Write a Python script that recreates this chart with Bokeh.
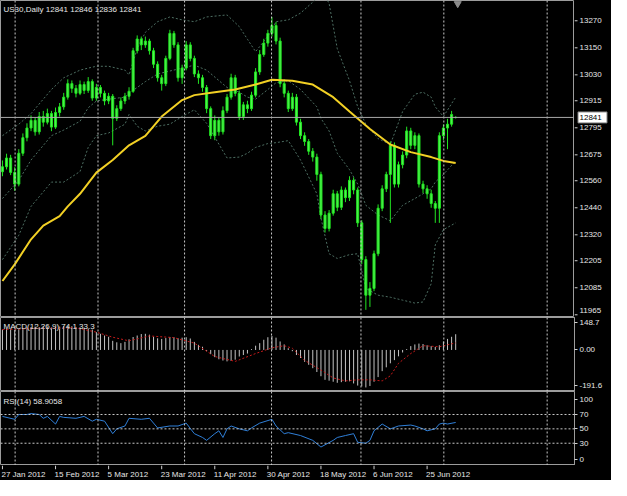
from bokeh.plotting import figure
from bokeh.layouts import column, row
from bokeh.models import Range1d, FixedTicker, Span, Label
from bokeh.embed import file_html
from bokeh.resources import INLINE
from bokeh.core.properties import value

# ---------------- data ----------------
symbol = "US30,Daily"
opens = [12600, 12622, 12661, 12597, 12545, 12682, 12751, 12794, 12828, 12777,
         12845, 12820, 12858, 12798, 12863, 12888, 12931, 12991, 12970, 12948,
         12987, 12961, 13000, 12927, 12974, 12948, 12914, 12935, 12837, 12880,
         12914, 12935, 12957, 13137, 13189, 13163, 13180, 13137, 13077, 13017,
         12991, 13103, 13214, 13163, 13017, 13060, 13163, 13103, 13034, 13017,
         12974, 12880, 12760, 12828, 12777, 12871, 12931, 13017, 12948, 12845,
         12897, 12880, 12940, 13043, 13120, 13171, 13214, 13249, 13180, 12991,
         12948, 12880, 12931, 12820, 12760, 12734, 12691, 12665, 12588, 12408,
         12348, 12416, 12502, 12442, 12519, 12485, 12562, 12519, 12373, 12210,
         12052, 12082, 12236, 12438, 12524, 12588, 12717, 12545, 12631, 12674,
         12781, 12717, 12760, 12545, 12524, 12502, 12459, 12438, 12760, 12794,
         12811, 12841]
highs = [12650, 12680, 12675, 12620, 12700, 12770, 12815, 12850, 12840, 12865,
         12870, 12880, 12870, 12885, 12905, 12950, 13010, 13005, 12985, 13005,
         13000, 13020, 13010, 12990, 12985, 12960, 12950, 12945, 12895, 12930,
         12950, 12975, 13150, 13205, 13200, 13200, 13190, 13150, 13090, 13030,
         13115, 13230, 13225, 13175, 13075, 13180, 13175, 13115, 13050, 13030,
         12985, 12890, 12850, 12840, 12890, 12945, 13035, 13030, 12960, 12910,
         12915, 12955, 13060, 13140, 13190, 13230, 13287, 13265, 13195, 13010,
         12960, 12950, 12945, 12835, 12775, 12745, 12705, 12680, 12600, 12425,
         12430, 12520, 12515, 12535, 12530, 12580, 12575, 12530, 12385, 12225,
         12110, 12250, 12455, 12540, 12600, 12735, 12730, 12645, 12690, 12800,
         12795, 12775, 12770, 12560, 12540, 12520, 12470, 12775, 12810, 12835,
         12870, 12846]
lows = [12580, 12610, 12585, 12515, 12535, 12670, 12735, 12780, 12760, 12765,
        12800, 12810, 12780, 12790, 12845, 12875, 12920, 12950, 12930, 12940,
        12945, 12950, 12915, 12915, 12930, 12895, 12900, 12717, 12825, 12870,
        12900, 12920, 12950, 13125, 13140, 13150, 13120, 13060, 13000, 12960,
        12980, 13095, 13150, 13000, 12990, 13050, 13090, 13020, 12990, 12955,
        12860, 12745, 12740, 12760, 12765, 12860, 12920, 12935, 12830, 12830,
        12860, 12870, 12930, 13030, 13110, 13155, 13200, 13165, 12975, 12930,
        12865, 12870, 12805, 12745, 12715, 12675, 12645, 12560, 12390, 12330,
        12335, 12405, 12425, 12430, 12465, 12470, 12500, 12355, 12190, 11987,
        12000, 12070, 12225, 12425, 12510, 12373, 12530, 12530, 12615, 12660,
        12700, 12700, 12530, 12505, 12480, 12440, 12373, 12373, 12740, 12700,
        12800, 12836]
closes = [12622, 12661, 12597, 12545, 12682, 12751, 12794, 12828, 12777, 12845,
          12820, 12858, 12798, 12863, 12888, 12931, 12991, 12970, 12948, 12987,
          12961, 13000, 12927, 12974, 12948, 12914, 12935, 12837, 12880, 12914,
          12935, 12957, 13137, 13189, 13163, 13180, 13137, 13077, 13017, 12991,
          13103, 13214, 13163, 13017, 13060, 13163, 13103, 13034, 13017, 12974,
          12880, 12760, 12828, 12777, 12871, 12931, 13017, 12948, 12845, 12897,
          12880, 12940, 13043, 13120, 13171, 13214, 13249, 13180, 12991, 12948,
          12880, 12931, 12820, 12760, 12734, 12691, 12665, 12588, 12408, 12348,
          12416, 12502, 12442, 12519, 12485, 12562, 12519, 12373, 12210, 12052,
          12082, 12236, 12438, 12524, 12588, 12717, 12545, 12631, 12674, 12781,
          12717, 12760, 12545, 12524, 12502, 12459, 12438, 12760, 12794, 12811,
          12854, 12841]

ma_idx = [0, 3, 7, 10, 14, 16, 19, 23, 27, 31, 35, 39, 44, 47, 52, 57, 62, 66,
          71, 76, 81, 85, 90, 95, 100, 105, 108, 111]
ma_val = [12115, 12189, 12300, 12361, 12403, 12446, 12502, 12596, 12652, 12717,
          12759, 12845, 12918, 12940, 12953, 12965, 12987, 13008, 13004, 12987,
          12931, 12867, 12790, 12721, 12687, 12665, 12648, 12639]

bb_idx = [0, 4, 7, 12, 15, 19, 21, 23, 26, 30, 31, 33, 35, 38, 41, 44, 47, 50,
          55, 58, 60, 62, 65, 67, 70, 73, 77, 78, 80, 82, 85, 87, 89, 92, 95,
          98, 101, 103, 105, 106, 108, 111]
bb_upper = [12760, 12811, 12858, 12965, 13017, 13051, 13060, 13068, 13068, 13051,
            13030, 13146, 13219, 13266, 13287, 13274, 13266, 13287, 13296, 13244,
            13188, 13133, 13201, 13266, 13274, 13304, 13369, 13412, 13347, 13146,
            13004, 12888, 12811, 12747, 12721, 12867, 12944, 12953, 12931, 12888,
            12845, 12931]
bb_mid = [12481, 12562, 12652, 12760, 12785, 12824, 12884, 12914, 12922, 12931,
          12948, 12974, 13000, 13034, 13047, 13060, 13073, 13051, 12974, 12953,
          12931, 12922, 12965, 12995, 13004, 12965, 12888, 12837, 12781, 12682,
          12609, 12545, 12451, 12408, 12382, 12451, 12481, 12502, 12524, 12554,
          12588, 12648]
bb_lower = [12210, 12318, 12446, 12554, 12554, 12601, 12708, 12760, 12772, 12811,
            12854, 12802, 12781, 12802, 12811, 12845, 12875, 12815, 12661, 12665,
            12682, 12708, 12725, 12729, 12738, 12652, 12502, 12395, 12236, 12215,
            12232, 12236, 12082, 12052, 12043, 12030, 12017, 12022, 12103, 12275,
            12343, 12373]

macd_hist = [96, 100, 98, 94, 98, 102, 106, 108, 110, 108, 112, 110, 106, 108,
             110, 112, 114, 112, 108, 106, 104, 100, 96,
             84, 76, 68, 62, 43, 36, 32, 38, 50, 61, 68, 75, 76, 72,
             62, 55, 52, 56, 61, 60, 55, 58, 60, 54, 38, 24, 15,
             -6, -20, -34, -44, -50, -54, -52, -46, -31, -24, -17, 4, 20, 32,
             48, 60, 66, 58, 40, 26, 8, -6, -24, -38, -56, -70, -86,
             -104, -124, -141, -145, -150, -155, -152, -150, -148, -158, -168,
             -172, -177, -170, -150, -128, -100, -82, -63, -48, -30, -12, 4,
             18, 26, 30, 28, 22, 18, 14, 22, 40, 52, 62, 74.1]
sig_idx = [0, 10, 18, 23, 27, 31, 36, 42, 47, 52, 57, 62, 66, 69, 71, 74, 78,
           81, 84, 87, 90, 93, 95, 97, 100, 103, 107, 111]
sig_val = [96, 102, 104, 84, 60, 43, 66, 58, 32, -31, -54, -17, 10, 20, 8, -49,
           -95, -132, -146, -141, -141, -146, -122, -63, -17, 20, 15, 33.3]

rsi_idx = [0, 3, 4, 6, 7, 9, 10, 11, 13, 14, 15, 18, 20, 22, 23, 25, 27, 28, 30,
           31, 34, 36, 38, 41, 43, 45, 47, 49, 50, 52, 53, 54, 55, 56, 58, 60,
           61, 63, 66, 67, 69, 70, 73, 76, 78, 81, 82, 84, 86, 87, 89, 90, 91,
           93, 95, 97, 100, 101, 103, 104, 106, 107, 108, 109, 111]
rsi_val = [67.3, 63.3, 70, 70, 71.3, 70, 64.7, 67.3, 56.7, 67.3, 66, 64.7, 67.3,
           60.7, 63.3, 60.7, 43.3, 50, 54, 64.7, 63.3, 64.7, 51.3, 54, 54, 58,
           43.3, 38, 34, 43.3, 47.3, 38, 50, 54, 50, 47.3, 51.3, 58, 63.3, 54,
           43.3, 44.7, 40.7, 34, 24.7, 34, 38, 40.7, 43.3, 31.3, 30, 34, 47.3,
           56.7, 50, 54, 55.3, 54, 50, 47.3, 50, 56.7, 58, 56.7, 58.9058]
rsi_levels = [70, 50, 30]

price_ticks = [13270, 13150, 13030, 12915, 12795, 12675, 12560, 12440, 12320,
               12205, 12085, 11965]
date_idx = [0, 13, 26, 39, 52, 65, 78, 91, 104]
date_labels = ["27 Jan 2012", "15 Feb 2012", "5 Mar 2012", "23 Mar 2012",
               "11 Apr 2012", "30 Apr 2012", "18 May 2012", "6 Jun 2012",
               "25 Jun 2012"]
vgrid_pos = [3.1, 23.4, 44.6, 65.9, 87.8, 108.1, 133.4]

n = len(closes)
assert len(opens) == len(highs) == len(lows) == n == len(macd_hist)
idx = list(range(n))

# ---------------- styling ----------------
FONT = "Liberation Sans"
W = 611
RB = 37
GRAY = "#9c9c9c"
TXT = "#e6e6e6"
xr = Range1d(-0.48, 140.1)


def base_fig(w, h, xrange, yr, axis=False, rb=0):
    p = figure(width=w, height=h, x_range=xrange, y_range=yr, output_backend="svg",
               toolbar_location=None, tools="", x_axis_location=None,
               y_axis_location="right" if axis else None,
               min_border_left=0, min_border_right=rb, min_border_top=0,
               min_border_bottom=0, background_fill_color="black",
               border_fill_color="black", outline_line_color=GRAY)
    p.xgrid.visible = False
    p.ygrid.visible = False
    return p


def style_axis(p, ticks, overrides=None):
    ax = p.yaxis[0]
    ax.ticker = FixedTicker(ticks=ticks)
    if overrides:
        ax.major_label_overrides = overrides
    ax.axis_line_color = GRAY
    ax.major_tick_line_color = "#d0d0d0"
    ax.major_tick_out = 3
    ax.major_tick_in = 0
    ax.minor_tick_line_color = None
    ax.major_label_standoff = 2
    ax.major_label_text_color = TXT
    ax.major_label_text_font = FONT
    ax.major_label_text_font_size = "8px"


def add_vgrid(p):
    for g in vgrid_pos:
        p.add_layout(Span(location=g, dimension="height", line_color="#c8c8c8",
                          line_width=1, line_dash="2 2"))


def add_title(p, text, top, dy):
    p.add_layout(Label(x=xr.start, y=top, x_offset=3, y_offset=-dy, text=text,
                       text_color=TXT, text_font=FONT, text_font_size="8px",
                       text_baseline="middle"))


# ---------------- main price panel ----------------
main_yr = Range1d(11953, 13360)
main = base_fig(W - RB, 317, xr, main_yr)
add_vgrid(main)
main.add_layout(Span(location=closes[-1], dimension="width", line_color="#a8a8a8",
                     line_width=1))
for s in (bb_upper, bb_mid, bb_lower):
    main.line(bb_idx, s, line_color="#4d6e62", line_width=1, line_dash="2 2")
main.segment(x0=idx, y0=lows, x1=idx, y1=highs, line_color="#22e622", line_width=1)
body_top = [max(o, c) for o, c in zip(opens, closes)]
body_bot = [min(o, c) for o, c in zip(opens, closes)]
main.vbar(x=idx, top=body_top, bottom=body_bot, width=0.5,
          fill_color="#55f055", line_color="#1ee61e", line_width=1)
main.line(ma_idx, ma_val, line_color="#f2d024", line_width=2)
main.scatter(x=[n - 0.5], y=[main_yr.end - 14], marker="inverted_triangle",
             size=7, color="#8a8a8a")
add_title(main, f"{symbol}  {opens[-1]} {highs[-1]} {lows[-1]} {closes[-1]}",
          main_yr.end, 9)

# price scale of the main panel (own strip, so the current-price box can be drawn)
scale = base_fig(RB, 317, Range1d(0, RB), main_yr)
scale.outline_line_color = None
label_pos = price_ticks[:-1] + [price_ticks[-1] + 18]   # lowest label sits above the edge
scale.segment(x0=[0] * len(price_ticks), y0=price_ticks, x1=[3] * len(price_ticks),
              y1=price_ticks, line_color="#d0d0d0", line_width=1)
scale.text(x=[5] * len(price_ticks), y=label_pos, text=[str(t) for t in price_ticks],
           text_font=value(FONT), text_font_size="8px", text_color=TXT,
           text_align="left", text_baseline="middle")
scale.rect(x=[18], y=[closes[-1]], width=29, height=11, width_units="screen",
           height_units="screen", fill_color="white", line_color="#808080")
scale.text(x=[5], y=[closes[-1]], text=[str(closes[-1])], text_font=value(FONT),
           text_font_size="8px", text_color="black", text_align="left",
           text_baseline="middle")

# ---------------- MACD panel ----------------
macd_yr = Range1d(-196, 153)
macd = base_fig(W, 74, xr, macd_yr, axis=True, rb=RB)
style_axis(macd, [130, 0, -169], {130: "148.7", 0: "0.00", -169: "-191.6"})
add_vgrid(macd)
macd.segment(x0=idx, y0=[0] * n, x1=idx, y1=macd_hist, line_color="#c4c4c4",
             line_width=1)
macd.line(sig_idx, sig_val, line_color="#c41a1a", line_width=1, line_dash="2 2")
add_title(macd, f"MACD(12,26,9) {macd_hist[-1]} {sig_val[-1]}", macd_yr.end, 9)

# ---------------- RSI panel ----------------
rsi_yr = Range1d(-1, 102)
rsi = base_fig(W, 74, xr, rsi_yr, axis=True, rb=RB)
style_axis(rsi, [91, 70, 50, 30, 7], {91: "100", 7: "0"})
add_vgrid(rsi)
for lv in rsi_levels:
    rsi.add_layout(Span(location=lv, dimension="width", line_color="#c8c8c8",
                        line_width=1, line_dash="2 2"))
rsi.line(rsi_idx, rsi_val, line_color="#2f7fd8", line_width=1)
add_title(rsi, f"RSI(14) {rsi_val[-1]}", rsi_yr.end, 10)

# ---------------- date axis strip ----------------
dates = base_fig(W, 15, xr, Range1d(0, 1), rb=RB)
dates.outline_line_color = None
dates.segment(x0=date_idx, y0=[1] * len(date_idx), x1=date_idx,
              y1=[0.75] * len(date_idx), line_color="#d0d0d0", line_width=1)
dates.text(x=date_idx, y=[0.42] * len(date_idx), text=date_labels,
           text_font=value(FONT), text_font_size="8px", text_color=TXT,
           text_align="left", text_baseline="middle", x_offset=-1)

layout = column(row(main, scale, spacing=0), macd, rsi, dates, spacing=0,
                styles={"background": "black"})
open("out.html", "w").write(file_html(layout, INLINE))
